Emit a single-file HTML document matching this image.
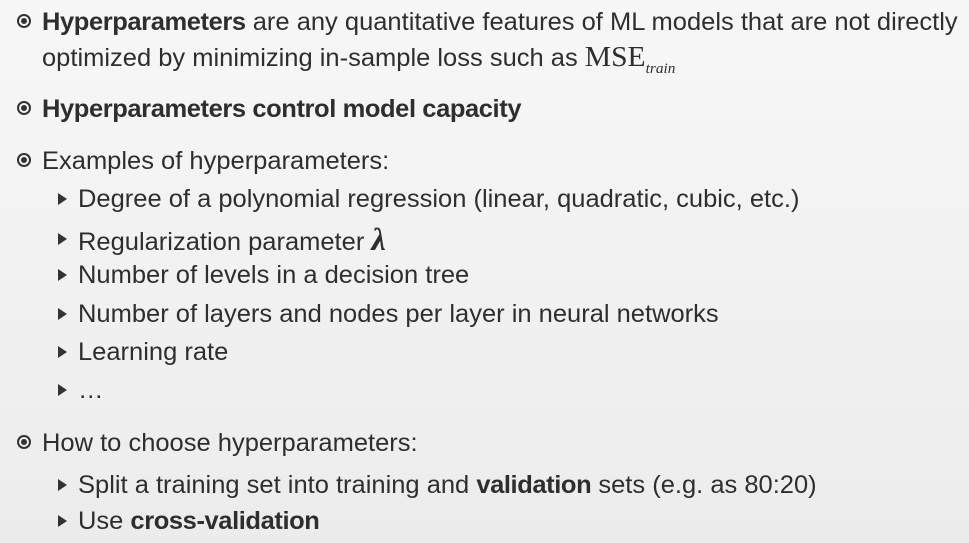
<!DOCTYPE html>
<html><head><style>
body{margin:0;width:969px;height:543px;overflow:hidden;background:linear-gradient(#f7f7f7,#ececec);font-family:"Liberation Sans",sans-serif;color:#2e2e2e;}
.l{position:absolute;white-space:nowrap;font-size:25px;line-height:30px;transform:scaleX(1.02);transform-origin:left center;}
.c{position:absolute;width:10px;height:10px;border:2px solid #333;border-radius:50%;}
.c::after{content:"";position:absolute;left:2px;top:2px;width:6px;height:6px;background:#333;border-radius:50%;}
.t{position:absolute;width:0;height:0;border-left:9px solid #333;border-top:6px solid transparent;border-bottom:6px solid transparent;}
b{font-weight:bold;letter-spacing:-0.4px;}
.m{font-family:"Liberation Serif",serif;}
</style></head><body>
<div class="c" style="left:17px;top:14px"></div>
<div class="l" style="left:42px;top:7px"><b>Hyperparameters</b> are any quantitative features of ML models that are not directly</div>
<div class="l" style="left:42px;top:42px">optimized by minimizing in-sample loss such as <span class="m" style="font-size:29px">MSE</span><span class="m" style="font-size:15px;font-style:italic;vertical-align:-7px">train</span></div>
<div class="c" style="left:17px;top:101px"></div>
<div class="l" style="left:42px;top:94px"><b>Hyperparameters control model capacity</b></div>
<div class="c" style="left:17px;top:153px"></div>
<div class="l" style="left:42px;top:146px">Examples of hyperparameters:</div>
<div class="t" style="left:58px;top:193px"></div>
<div class="l" style="left:78px;top:184px">Degree of a polynomial regression (linear, quadratic, cubic, etc.)</div>
<div class="t" style="left:58px;top:233px"></div>
<div class="l" style="left:78px;top:224px">Regularization parameter <span class="m" style="font-style:italic;font-weight:bold;font-size:32px">λ</span></div>
<div class="t" style="left:58px;top:269px"></div>
<div class="l" style="left:78px;top:260px">Number of levels in a decision tree</div>
<div class="t" style="left:58px;top:308px"></div>
<div class="l" style="left:78px;top:299px">Number of layers and nodes per layer in neural networks</div>
<div class="t" style="left:58px;top:346px"></div>
<div class="l" style="left:78px;top:337px">Learning rate</div>
<div class="t" style="left:58px;top:384px"></div>
<div class="l" style="left:78px;top:375px">…</div>
<div class="c" style="left:17px;top:435px"></div>
<div class="l" style="left:42px;top:428px">How to choose hyperparameters:</div>
<div class="t" style="left:58px;top:479px"></div>
<div class="l" style="left:78px;top:470px">Split a training set into training and <b>validation</b> sets (e.g. as 80:20)</div>
<div class="t" style="left:58px;top:515px"></div>
<div class="l" style="left:78px;top:506px">Use <b>cross-validation</b></div>
</body></html>
